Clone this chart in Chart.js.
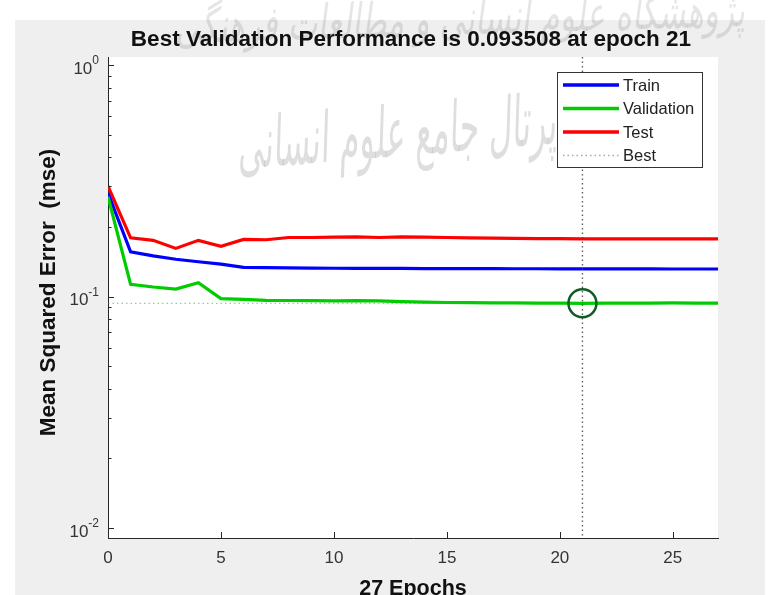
<!DOCTYPE html>
<html>
<head>
<meta charset="utf-8">
<script src="https://cdn.jsdelivr.net/npm/chart.js@4.4.1/dist/chart.umd.min.js"></script>
<style>
  html, body { margin: 0; padding: 0; background: #fff; overflow: hidden; }
  #wrap { width: 779px; height: 595px; }
</style>
</head>
<body>
<div id="wrap"><canvas id="perf" width="779" height="595"></canvas></div>
<script>
// Training record of the network: mean squared error per epoch
const epochs = [0, 1, 2, 3, 4, 5, 6, 7, 8, 9, 10, 11, 12, 13, 14, 15, 16, 17, 18, 19, 20, 21, 22, 23, 24, 25, 26, 27];
const trainMse = [0.280, 0.156, 0.150, 0.145, 0.1414, 0.138, 0.1337, 0.1333, 0.1330, 0.1328, 0.1326, 0.1325, 0.1324, 0.1323, 0.1322, 0.1321, 0.1320, 0.1320, 0.1319, 0.1319, 0.1318, 0.1318, 0.1317, 0.1317, 0.1317, 0.1316, 0.1316, 0.1316];
const validationMse = [0.270, 0.113, 0.110, 0.1077, 0.1148, 0.0980, 0.0972, 0.0964, 0.0962, 0.0960, 0.0958, 0.0961, 0.0958, 0.0952, 0.0947, 0.0943, 0.0941, 0.0940, 0.0939, 0.0938, 0.0937, 0.093508, 0.0937, 0.0938, 0.0938, 0.0939, 0.0938, 0.0938];
const testMse = [0.300, 0.1795, 0.175, 0.1615, 0.175, 0.165, 0.1765, 0.176, 0.180, 0.180, 0.1805, 0.181, 0.180, 0.181, 0.1805, 0.180, 0.1795, 0.179, 0.1785, 0.178, 0.178, 0.1775, 0.1775, 0.1775, 0.1775, 0.1775, 0.1775, 0.1775];
const bestEpoch = 21;
const bestValidation = 0.093508;
const seriesNames = ['Train', 'Validation', 'Test', 'Best'];
const xTickValues = [0, 5, 10, 15, 20, 25];
const yTickExponents = [0, -1, -2];
const chartTitle = 'Best Validation Performance is 0.093508 at epoch 21';
const yAxisTitle = 'Mean Squared Error  (mse)';
const xAxisTitle = '27 Epochs';
const watermarkTop = 'پژوهشگاه علوم انسانی و مطالعات فرهنگی';
const watermarkMain = 'پرتال جامع علوم انسانی';

const X_MIN = 0, X_MAX = 27;
const Y_MIN = 0.00906, Y_MAX = 1.084;

const FONT = '"Liberation Sans", Arial, Helvetica, sans-serif';
const COLORS = { train: '#0000ff', validation: '#00cc00', test: '#ff0000', circle: '#145a26' };

const pts = (ys) => ys.map((y, i) => ({ x: epochs[i], y }));

const decor = {
  id: 'decor',
  beforeDraw(chart) {
    const { ctx, chartArea: a } = chart;
    ctx.save();
    ctx.fillStyle = '#ffffff';
    ctx.fillRect(0, 0, chart.width, chart.height);
    ctx.fillStyle = '#efefef';
    ctx.fillRect(15, 20, 750, 575);
    ctx.fillStyle = '#ffffff';
    ctx.fillRect(a.left, a.top, a.right - a.left, a.bottom - a.top);
    ctx.restore();
  },
  beforeDatasetsDraw(chart) {
    // faint calligraphic watermark behind the curves
    const { ctx } = chart;
    ctx.save();
    ctx.fillStyle = 'rgba(0,0,0,0.10)';
    ctx.textAlign = 'center';
    ctx.textBaseline = 'middle';
    ctx.direction = 'rtl';
    ctx.font = 'italic 30px "DejaVu Sans", sans-serif';
    let w = ctx.measureText(watermarkTop).width;
    ctx.translate(460, 22);
    ctx.rotate(-0.03);
    ctx.scale(570 / w, 1.6);
    ctx.fillText(watermarkTop, 0, 0);
    ctx.restore();

    ctx.save();
    ctx.fillStyle = 'rgba(0,0,0,0.13)';
    ctx.textAlign = 'center';
    ctx.textBaseline = 'middle';
    ctx.direction = 'rtl';
    ctx.font = 'italic 44px "DejaVu Sans", sans-serif';
    w = ctx.measureText(watermarkMain).width;
    ctx.translate(396, 138);
    ctx.rotate(-0.08);
    ctx.scale(320 / w, 1.6);
    ctx.fillText(watermarkMain, 0, 0);
    ctx.restore();
  },
  afterDraw(chart) {
    const { ctx, chartArea: a, scales: { x, y } } = chart;
    ctx.save();
    ctx.strokeStyle = '#262626';
    ctx.lineWidth = 1;
    ctx.beginPath();
    // log-scale ticks on the y axis, pointing inward
    for (let e = -3; e <= 0; e++) {
      for (let k = 1; k <= 9; k++) {
        const v = k * Math.pow(10, e);
        if (v < Y_MIN || v > Y_MAX) continue;
        const py = Math.round(y.getPixelForValue(v)) + 0.5;
        const len = k === 1 ? 6 : 3.5;
        ctx.moveTo(a.left, py);
        ctx.lineTo(a.left + len, py);
      }
    }
    // x ticks
    xTickValues.forEach(t => {
      const px = Math.round(x.getPixelForValue(t)) + 0.5;
      ctx.moveTo(px, a.bottom);
      ctx.lineTo(px, a.bottom - 6);
    });
    ctx.stroke();

    // tick labels
    ctx.fillStyle = '#333333';
    ctx.textBaseline = 'middle';
    ctx.textAlign = 'center';
    ctx.font = '17px ' + FONT;
    xTickValues.forEach(t => {
      ctx.fillText(String(t), x.getPixelForValue(t), a.bottom + 20);
    });
    yTickExponents.forEach(ex => {
      const py = y.getPixelForValue(Math.pow(10, ex));
      const sup = String(ex);
      ctx.textAlign = 'right';
      ctx.font = '12px ' + FONT;
      const sw = ctx.measureText(sup).width;
      const right = a.left - 9;
      ctx.fillText(sup, right, py - 4);
      ctx.font = '17px ' + FONT;
      ctx.fillText('10', right - sw, py + 4);
    });

    // titles
    ctx.fillStyle = '#111111';
    ctx.font = 'bold 22.5px ' + FONT;
    ctx.textAlign = 'center';
    ctx.textBaseline = 'middle';
    const cx = (a.left + a.right) / 2;
    ctx.fillText(chartTitle, cx - 2, 40);
    ctx.font = 'bold 21.5px ' + FONT;
    ctx.textBaseline = 'alphabetic';
    ctx.fillText(xAxisTitle, cx, 595);
    ctx.save();
    ctx.font = 'bold 22.5px ' + FONT;
    ctx.translate(49, (a.top + a.bottom) / 2 - 5);
    ctx.rotate(-Math.PI / 2);
    ctx.textBaseline = 'middle';
    ctx.fillText(yAxisTitle, 0, 0);
    ctx.restore();

    // legend box
    const lx = 557.5, ly = 72.5, lw = 145, lh = 95;
    ctx.fillStyle = '#ffffff';
    ctx.fillRect(lx, ly, lw, lh);
    ctx.strokeStyle = '#333333';
    ctx.lineWidth = 1;
    ctx.strokeRect(lx, ly, lw, lh);
    const rowColors = [COLORS.train, COLORS.validation, COLORS.test, null];
    seriesNames.forEach((name, i) => {
      const ry = 85 + i * 23.5;
      ctx.save();
      ctx.beginPath();
      ctx.moveTo(563, ry);
      ctx.lineTo(619, ry);
      if (rowColors[i]) {
        ctx.strokeStyle = rowColors[i];
        ctx.lineWidth = 3.5;
      } else {
        ctx.strokeStyle = 'rgba(110,150,130,0.7)';
        ctx.lineWidth = 1.3;
        ctx.setLineDash([1.5, 3]);
      }
      ctx.stroke();
      ctx.restore();
      ctx.fillStyle = '#222222';
      ctx.font = '16.5px ' + FONT;
      ctx.textAlign = 'left';
      ctx.textBaseline = 'middle';
      ctx.fillText(name, 623, ry + 1);
    });
    ctx.restore();
  }
};

new Chart(document.getElementById('perf'), {
  type: 'line',
  data: {
    datasets: [
      {
        label: 'Best point',
        data: [{ x: bestEpoch, y: bestValidation }],
        showLine: false,
        pointRadius: 14,
        pointBorderWidth: 2.5,
        pointBorderColor: COLORS.circle,
        pointBackgroundColor: 'rgba(0,0,0,0)'
      },
      {
        label: 'Best epoch',
        data: [{ x: bestEpoch, y: Y_MAX }, { x: bestEpoch, y: Y_MIN }],
        borderColor: 'rgba(60,70,80,0.85)',
        borderWidth: 1.4,
        borderDash: [1.5, 3],
        pointRadius: 0
      },
      {
        label: seriesNames[1],
        data: pts(validationMse),
        borderColor: COLORS.validation,
        borderWidth: 3.2,
        pointRadius: 0,
        tension: 0
      },
      {
        label: seriesNames[0],
        data: pts(trainMse),
        borderColor: COLORS.train,
        borderWidth: 3.2,
        pointRadius: 0,
        tension: 0
      },
      {
        label: seriesNames[2],
        data: pts(testMse),
        borderColor: COLORS.test,
        borderWidth: 3.2,
        pointRadius: 0,
        tension: 0
      },
      {
        label: seriesNames[3],
        data: [{ x: X_MIN, y: bestValidation }, { x: X_MAX, y: bestValidation }],
        borderColor: 'rgba(0,190,0,0.5)',
        borderWidth: 1.4,
        borderDash: [1.5, 3],
        pointRadius: 0
      }
    ]
  },
  options: {
    responsive: false,
    animation: false,
    devicePixelRatio: 1,
    layout: { padding: { left: 108, right: 61, top: 57, bottom: 57 } },
    plugins: { legend: { display: false }, tooltip: { enabled: false }, title: { display: false } },
    scales: {
      x: {
        type: 'linear', min: X_MIN, max: X_MAX,
        grid: { display: false, drawTicks: false },
        border: { display: true, color: '#262626', width: 1 },
        ticks: { display: false }
      },
      y: {
        type: 'logarithmic', min: Y_MIN, max: Y_MAX,
        grid: { display: false, drawTicks: false },
        border: { display: true, color: '#262626', width: 1 },
        ticks: { display: false }
      }
    }
  },
  plugins: [decor]
});
</script>
</body>
</html>
